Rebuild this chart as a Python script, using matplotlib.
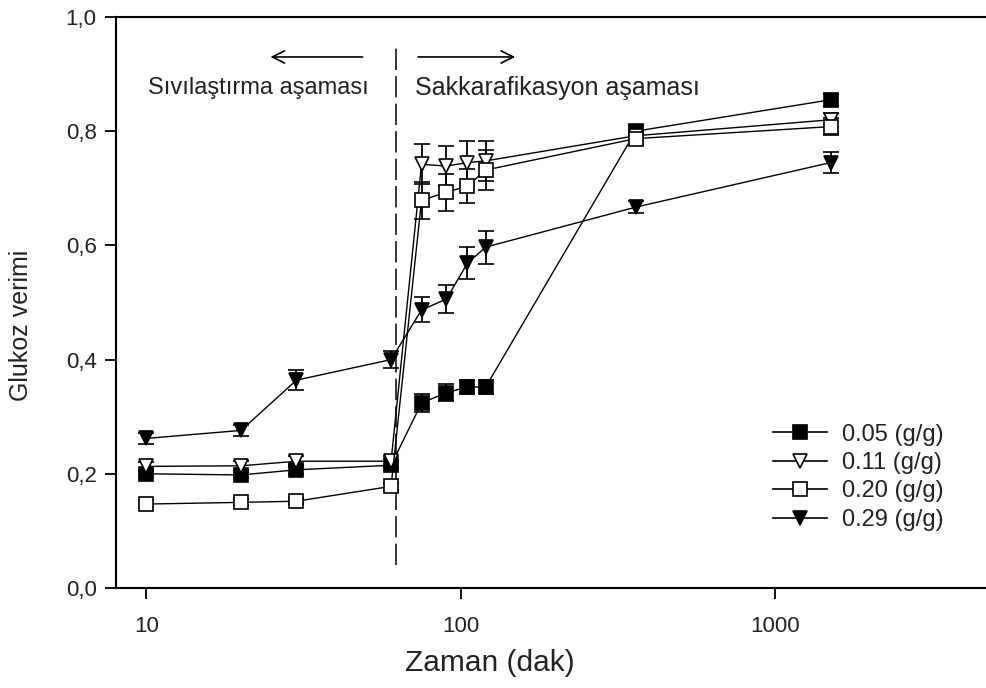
import matplotlib
matplotlib.use("Agg")
import matplotlib.pyplot as plt
from matplotlib.lines import Line2D
from matplotlib.ticker import FixedLocator, FixedFormatter, NullLocator

plt.rcParams['font.family'] = ['Liberation Sans', 'DejaVu Sans']

time_min = [10, 20, 30, 60, 75, 90, 105, 120, 360, 1500]

series_labels = ["0.05 (g/g)", "0.11 (g/g)", "0.20 (g/g)", "0.29 (g/g)"]

y_005 = [0.200, 0.198, 0.207, 0.215, 0.324, 0.342, 0.352, 0.352, 0.800, 0.855]
e_005 = [0.006, 0.006, 0.008, 0.008, 0.015, 0.015, 0.013, 0.013, 0.010, 0.010]

y_011 = [0.213, 0.214, 0.222, 0.222, 0.742, 0.739, 0.745, 0.748, 0.792, 0.820]
e_011 = [0.008, 0.008, 0.010, 0.010, 0.035, 0.035, 0.038, 0.035, 0.010, 0.012]

y_020 = [0.147, 0.150, 0.152, 0.178, 0.679, 0.693, 0.704, 0.732, 0.787, 0.808]
e_020 = [0.005, 0.005, 0.005, 0.006, 0.032, 0.032, 0.030, 0.035, 0.010, 0.015]

y_029 = [0.262, 0.276, 0.364, 0.400, 0.487, 0.506, 0.569, 0.597, 0.667, 0.745]
e_029 = [0.010, 0.010, 0.018, 0.015, 0.022, 0.025, 0.028, 0.029, 0.010, 0.018]

y_ticks = [0.0, 0.2, 0.4, 0.6, 0.8, 1.0]
y_tick_labels = ["0,0", "0,2", "0,4", "0,6", "0,8", "1,0"]
x_ticks = [10, 100, 1000]
x_tick_labels = ["10", "100", "1000"]

W, H = 987, 688
fig = plt.figure(figsize=(W / 100, H / 100), dpi=100)
ax = fig.add_axes([116 / W, (H - 588) / H, (W - 116) / W, (588 - 17) / H])

styles = [
    dict(marker='s', mfc='black', mec='black'),
    dict(marker='v', mfc='white', mec='black'),
    dict(marker='s', mfc='white', mec='black'),
    dict(marker='v', mfc='black', mec='black'),
]
data = [(y_005, e_005), (y_011, e_011), (y_020, e_020), (y_029, e_029)]

handles = []
for (ys, es), st, lab in zip(data, styles, series_labels):
    ax.errorbar(time_min, ys, yerr=es, color='black', lw=1.0, ms=10,
                capsize=6, elinewidth=1.3, capthick=1.3, mew=1.2, **st)
    handles.append(Line2D([], [], color='black', lw=1.2, ms=10, mew=1.2,
                          label=lab, **st))

ax.set_xscale('log')
ax.set_xlim(8.0, 4720)
ax.set_ylim(0.0, 1.0)

ax.xaxis.set_major_locator(FixedLocator(x_ticks))
ax.xaxis.set_major_formatter(FixedFormatter(x_tick_labels))
ax.xaxis.set_minor_locator(NullLocator())
ax.yaxis.set_major_locator(FixedLocator(y_ticks))
ax.yaxis.set_major_formatter(FixedFormatter(y_tick_labels))

ax.tick_params(axis='both', direction='out', length=8, width=1.3,
               labelsize=16, colors='black')
ax.tick_params(axis='x', pad=12)
ax.tick_params(axis='y', pad=6)
for lbl in ax.get_xticklabels() + ax.get_yticklabels():
    lbl.set_color('#222222')

ax.spines['right'].set_visible(False)
for s in ['top', 'left', 'bottom']:
    ax.spines[s].set_linewidth(1.5)

ax.set_xlabel("Zaman (dak)", fontsize=21.5, color='#222222')
ax.xaxis.set_label_coords((490 - 116) / (W - 116), -(663 - 588) / (588 - 17))
ax.xaxis.label.set_va('center')
ax.set_ylabel("Glukoz verimi", fontsize=18, color='#222222')
ax.yaxis.set_label_coords(-(116 - 21) / (W - 116), (588 - 325) / (588 - 17))
ax.yaxis.label.set_va('center')

# phase divider
ax.plot([62, 62], [0.04, 0.955], color='black', lw=1.1,
        linestyle=(0, (14, 4)))

# arrows
ax.annotate("", xy=(24.3, 0.93), xytext=(49.7, 0.93),
            arrowprops=dict(arrowstyle='->', lw=1.2, color='black',
                            mutation_scale=22))
ax.annotate("", xy=(152, 0.93), xytext=(71.6, 0.93),
            arrowprops=dict(arrowstyle='->', lw=1.2, color='black',
                            mutation_scale=22))

ax.text(10.1, 0.876, "Sıvılaştırma aşaması", fontsize=17, va='center',
        ha='left', color='#222222')
ax.text(71.5, 0.876, "Sakkarafikasyon aşaması", fontsize=18, va='center',
        ha='left', color='#222222')

leg = ax.legend(handles=handles, loc='upper left',
                bbox_to_anchor=((768 - 116) / (W - 116), (588 - 419) / (588 - 17)),
                frameon=False, fontsize=17, handlelength=2.3,
                labelspacing=0.27, handletextpad=0.65, borderaxespad=0,
                borderpad=0.2)
for t in leg.get_texts():
    t.set_color('#222222')

fig.savefig("out.png", dpi=100)
